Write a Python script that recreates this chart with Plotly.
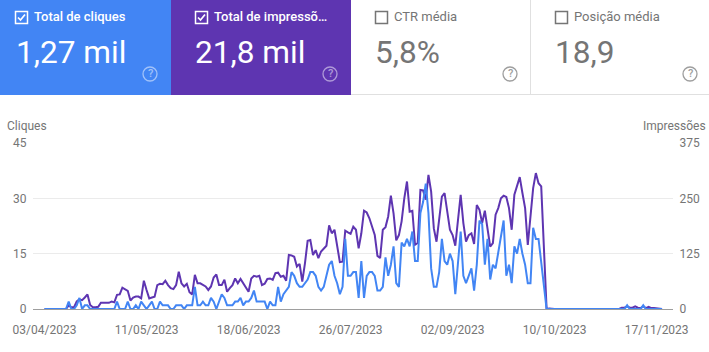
import pandas as pd
import plotly.graph_objects as go

START_DATE = "2023-04-03"
tick_dates = ["2023-04-03", "2023-05-11", "2023-06-18", "2023-07-26", "2023-09-02", "2023-10-10", "2023-11-17"]
tick_labels = ["03/04/2023", "11/05/2023", "18/06/2023", "26/07/2023", "02/09/2023", "10/10/2023", "17/11/2023"]
click_ticks = [0, 15, 30, 45]
impression_ticks = [0, 125, 250, 375]

clicks = [
    0, 0, 0, 0, 0, 0, 0, 0, 0, 2,
    0, 0, 1, 3, 0, 1, 1, 0, 0, 0,
    0, 0, 0, 0, 0, 0, 0, 2, 0, 0,
    0, 2, 0, 0, 1, 0, 2, 1, 0, 1,
    2, 0, 0, 2, 1, 1, 1, 0, 0, 1,
    1, 1, 0, 1, 1, 1, 6, 1, 1, 2,
    1, 1, 3, 2, 0, 2, 4, 3, 1, 1,
    1, 2, 2, 3, 1, 2, 2, 3, 5, 2,
    2, 2, 2, 0, 2, 1, 1, 6, 2, 4,
    5, 6, 10, 9, 7, 6, 6, 7, 8, 10,
    10, 9, 6, 5, 6, 9, 12, 13, 9, 7,
    4, 6, 19, 9, 9, 10, 10, 3, 13, 3,
    9, 10, 10, 9, 5, 5, 6, 14, 9, 12,
    17, 7, 6, 18, 17, 19, 17, 21, 13, 13,
    26, 29, 34, 26, 11, 6, 6, 10, 19, 13,
    12, 15, 13, 4, 13, 21, 9, 7, 9, 11,
    5, 12, 24, 23, 12, 19, 8, 12, 11, 15,
    20, 24, 9, 12, 7, 17, 15, 19, 15, 12,
    7, 7, 22, 19, 19, 13, 6, 0, 0, 0,
    0, 0, 0, 0, 0, 0, 0, 0, 0, 0,
    0, 0, 0, 0, 0, 0, 0, 0, 0, 0,
    0, 0, 0, 0, 0, 0, 0, 1, 0, 0,
    0, 0, 0, 1, 0, 0, 0, 0, 0, 0,
    0,
]

impressions = [
    0, 0, 0, 0, 0, 0, 0, 0, 0, 8,
    4, 4, 17, 22, 20, 26, 33, 9, 4, 4,
    5, 14, 14, 13, 14, 17, 15, 32, 33, 48,
    45, 41, 19, 26, 28, 28, 24, 64, 43, 24,
    26, 28, 54, 57, 56, 64, 54, 47, 45, 54,
    84, 58, 51, 57, 38, 33, 77, 58, 58, 54,
    51, 43, 51, 71, 78, 54, 54, 66, 39, 47,
    54, 69, 58, 68, 58, 48, 39, 69, 75, 73,
    75, 54, 57, 68, 69, 66, 81, 82, 73, 75,
    64, 122, 121, 118, 96, 102, 62, 103, 154, 156,
    122, 133, 115, 130, 137, 143, 189, 171, 179, 137,
    106, 107, 177, 173, 170, 186, 179, 137, 171, 222,
    218, 205, 186, 167, 120, 115, 179, 185, 209, 256,
    216, 155, 167, 198, 250, 288, 220, 222, 145, 149,
    269, 268, 247, 303, 265, 182, 152, 205, 254, 262,
    216, 179, 167, 143, 201, 258, 194, 152, 167, 171,
    147, 235, 224, 194, 222, 182, 141, 149, 213, 228,
    250, 256, 253, 228, 179, 258, 277, 298, 262, 228,
    145, 209, 273, 307, 284, 277, 135, 0, 1, 0,
    0, 0, 0, 0, 0, 1, 0, 1, 0, 0,
    0, 0, 0, 0, 0, 0, 0, 0, 0, 0,
    0, 1, 0, 0, 0, 3, 3, 6, 3, 3,
    6, 3, 2, 6, 2, 5, 2, 2, 1, 0,
    0,
]

W, H = 709, 352
L, R, T, B = 33, 673, 143, 309
FONT = "Roboto, sans-serif"
BLUE, PURPLE, GREY = "#4285f4", "#5e35b1", "#757575"

dates = pd.date_range(START_DATE, periods=len(clicks), freq="D")


def px(x):
    return (x - L) / (R - L)


def py(y):
    return (B - y) / (B - T)


shapes = []
annotations = []


def rect(x0, y0, x1, y1, fill, line=None, width=0):
    shapes.append(dict(type="rect", xref="paper", yref="paper", layer="below",
                       x0=px(x0), x1=px(x1), y0=py(y0), y1=py(y1), fillcolor=fill,
                       line=dict(color=line or "rgba(0,0,0,0)", width=width)))


def text(x, y, s, size, color, anchor="left", weight=400):
    annotations.append(dict(xref="paper", yref="paper", x=px(x), y=py(y), text=s, showarrow=False,
                            xanchor=anchor, yanchor="middle", borderpad=0, borderwidth=0,
                            font=dict(family=FONT, size=size, color=color, weight=weight)))


rect(0, 0, 171, 95, BLUE)
rect(171, 0, 351, 95, PURPLE)
rect(351, 94, 709, 95, "#e0e0e0")
rect(530, 0, 531, 95, "#e0e0e0")

cards = [
    (15.5, "Total de cliques", "1,27 mil", "#ffffff", True, 150, 15.8),
    (195.5, "Total de impressõ…", "21,8 mil", "#ffffff", True, 330, 195),
    (375.5, "CTR média", "5,8%", GREY, False, 510, 374.8),
    (555.5, "Posição média", "18,9", GREY, False, 690, 554.8),
]
for x, label, value, color, checked, qx, vx in cards:
    box = "#ffffff" if checked else GREY
    shapes.append(dict(type="rect", xref="paper", yref="paper", x0=px(x), x1=px(x + 12), y0=py(11.5), y1=py(23.5),
                       line=dict(color=box, width=1.5), fillcolor="rgba(0,0,0,0)"))
    if checked:
        shapes.append(dict(type="path", xref="paper", yref="paper",
                           path=f"M {px(x + 2.5)} {py(17.5)} L {px(x + 5)} {py(20)} L {px(x + 9.5)} {py(14.5)}",
                           line=dict(color="#ffffff", width=1.7)))
    text(x + 18, 16.5, label, 13, color, weight=500 if checked else 400)
    text(vx, 52, value, 31.6, color)
    qc = "rgba(255,255,255,0.5)" if checked else "#9e9e9e"
    shapes.append(dict(type="circle", xref="paper", yref="paper", x0=px(qx - 7), x1=px(qx + 7), y0=py(67), y1=py(81),
                       line=dict(color=qc, width=1.3), fillcolor="rgba(0,0,0,0)"))
    text(qx, 74, "?", 11, qc, anchor="center", weight=500)

text(7, 126, "Cliques", 12, GREY)
text(706, 126, "Impressões", 12, GREY, anchor="right")

fig = go.Figure()
fig.add_trace(go.Scatter(x=dates, y=impressions, name="Impressões", mode="lines", yaxis="y", cliponaxis=False,
                         line=dict(color=PURPLE, width=2), hoverinfo="skip"))
fig.add_trace(go.Scatter(x=dates, y=clicks, name="Cliques", mode="lines", yaxis="y2", cliponaxis=False,
                         line=dict(color=BLUE, width=2), hoverinfo="skip"))

fig.update_layout(
    width=W, height=H, showlegend=False, paper_bgcolor="#ffffff", plot_bgcolor="#ffffff",
    margin=dict(l=L, r=W - R, t=T, b=H - B, pad=0, autoexpand=False),
    font=dict(family=FONT, size=12, color=GREY),
    shapes=shapes, annotations=annotations,
    xaxis=dict(type="date", range=["2023-03-29 17:00", "2023-11-23 02:00"], tickmode="array", automargin=False,
               tickvals=tick_dates, ticktext=tick_labels, tickangle=0, showgrid=False, zeroline=False,
               showline=True, linecolor="#9e9e9e", linewidth=1, ticks="outside", ticklen=10,
               tickcolor="rgba(0,0,0,0)", tickfont=dict(family=FONT, size=12, color=GREY)),
    yaxis=dict(side="right", range=[0, 375], tickmode="array", tickvals=impression_ticks, automargin=False,
               ticks="outside", ticklen=3, tickcolor="rgba(0,0,0,0)", showgrid=True, gridcolor="#ebebeb",
               gridwidth=1, zeroline=False, showline=False, tickfont=dict(family=FONT, size=12, color=GREY)),
    yaxis2=dict(side="left", overlaying="y", range=[0, 45], tickmode="array", tickvals=click_ticks, automargin=False,
                ticks="outside", ticklen=3, tickcolor="rgba(0,0,0,0)", showgrid=False, zeroline=False,
                showline=False, tickfont=dict(family=FONT, size=12, color=GREY)),
)

fig.write_html("out.html", config={"displayModeBar": False},
               post_script="document.body.style.margin='0';document.documentElement.style.overflow='hidden';")
